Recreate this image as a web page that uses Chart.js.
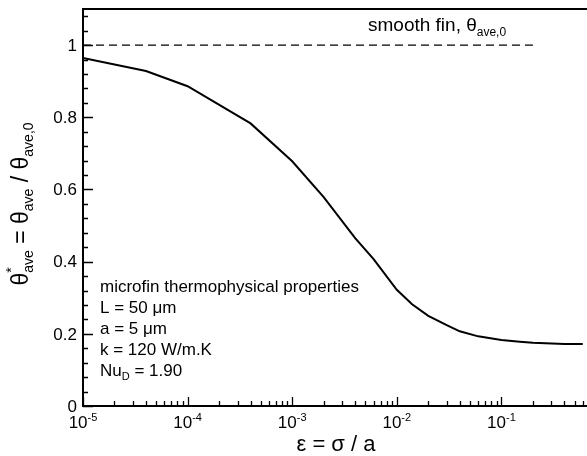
<!DOCTYPE html>
<html>
<head>
<meta charset="utf-8">
<script src="https://cdn.jsdelivr.net/npm/chart.js@4"></script>
<style>
  html, body { margin:0; padding:0; background:#fff; overflow:hidden; }
  #wrap { width:620px; height:456px; }
</style>
</head>
<body>
<div id="wrap"><canvas id="chart" width="620" height="456"></canvas></div>
<script>
// ============================================================
// DATA
// ============================================================
const eps       = [1e-5, 4e-5, 1e-4, 4e-4, 1e-3, 2e-3, 4e-3, 6e-3, 1e-2, 1.4e-2, 2e-2, 3e-2, 4e-2, 6e-2, 1e-1, 1.5e-1, 2e-1, 4e-1, 6e-1];
const thetaStar = [0.964, 0.928, 0.886, 0.783, 0.678, 0.579, 0.465, 0.407, 0.322, 0.282, 0.250, 0.224, 0.207, 0.193, 0.183, 0.178, 0.175, 0.172, 0.172];

const smoothEps   = [1e-5, 0.2];
const smoothTheta = [1, 1];

const yTicks      = [0, 0.2, 0.4, 0.6, 0.8, 1];
const yTickLabels = ['0', '0.2', '0.4', '0.6', '0.8', '1'];
const xDecades    = [1e-5, 1e-4, 1e-3, 1e-2, 1e-1];
const xTickExp    = ['-5', '-4', '-3', '-2', '-1'];

const propLines = ['microfin thermophysical properties', 'L = 50 μm', 'a = 5 μm', 'k = 120 W/m.K'];

// ============================================================
// helpers
// ============================================================
const FONT = '"Liberation Sans", Arial, sans-serif';
const fnt = sz => sz + 'px ' + FONT;

// parts: [text, size, dy]
function runWidth(ctx, parts) {
  let w = 0;
  parts.forEach(p => { ctx.font = fnt(p[1]); w += ctx.measureText(p[0]).width; });
  return w;
}
function drawRun(ctx, parts, x, y) {
  parts.forEach(p => {
    ctx.font = fnt(p[1]);
    ctx.fillText(p[0], x, y + (p[2] || 0));
    x += ctx.measureText(p[0]).width;
  });
  return x;
}

const frame = {
  id: 'frame',
  afterDraw(chart) {
    const { ctx, chartArea: a, scales: { x, y } } = chart;
    ctx.save();
    ctx.strokeStyle = '#000';
    ctx.fillStyle = '#000';

    // box
    ctx.lineWidth = 2;
    ctx.strokeRect(a.left, a.top, a.right - a.left, a.bottom - a.top);

    // y ticks (inward), minor every 0.04
    ctx.lineWidth = 1.3;
    ctx.beginPath();
    for (let i = 0; i <= 27; i++) {
      const v = i * 0.04;
      const py = Math.round(y.getPixelForValue(v)) + 0.5;
      const major = i % 5 === 0;
      ctx.moveTo(a.left, py);
      ctx.lineTo(a.left + (major ? 10 : 5), py);
    }
    // x ticks (inward), minor at 2..9
    xDecades.concat([1]).forEach(d => {
      for (let m = 1; m <= 9; m++) {
        const v = m * d;
        if (v > 1.0001) break;
        const px = Math.round(x.getPixelForValue(v)) + 0.5;
        ctx.moveTo(px, a.bottom);
        ctx.lineTo(px, a.bottom - (m === 1 ? 9 : 5));
      }
    });
    ctx.stroke();

    // y tick labels
    ctx.textAlign = 'right';
    ctx.textBaseline = 'middle';
    ctx.font = fnt(17);
    yTicks.forEach((v, i) => ctx.fillText(yTickLabels[i], a.left - 6, y.getPixelForValue(v) + 1));

    // x tick labels 10^n
    ctx.textAlign = 'left';
    ctx.textBaseline = 'alphabetic';
    xDecades.forEach((d, i) => {
      const parts = [['10', 17, 0], [xTickExp[i], 11, -7]];
      const w = runWidth(ctx, parts);
      drawRun(ctx, parts, x.getPixelForValue(d) - w / 2, 428);
    });

    // x title
    const xt = [['ε = σ / a', 22, 0]];
    drawRun(ctx, xt, 336 - runWidth(ctx, xt) / 2, 451);

    // y title, rotated
    ctx.save();
    ctx.translate(28, 204);
    ctx.rotate(-Math.PI / 2);
    const yt = [['θ', 23, 0], ['ave', 14, 5], [' = θ', 23, 0], ['ave', 14, 5], [' / θ', 23, 0], ['ave,0', 14, 5]];
    const sx = -runWidth(ctx, yt) / 2;
    ctx.font = fnt(23);
    const thW = ctx.measureText('θ').width;
    drawRun(ctx, yt, sx, 0);
    ctx.font = fnt(14);
    ctx.fillText('*', sx + thW, -12);
    ctx.restore();

    // smooth fin label
    drawRun(ctx, [['smooth fin, θ', 19, 0], ['ave,0', 12, 5]], 368, 31);

    // property block
    ctx.font = fnt(17);
    propLines.forEach((t, i) => ctx.fillText(t, 100, 292 + i * 21));
    drawRun(ctx, [['Nu', 17, 0], ['D', 11, 4], [' = 1.90', 17, 0]], 100, 292 + 4 * 21);

    ctx.restore();
  }
};

new Chart(document.getElementById('chart').getContext('2d'), {
  type: 'line',
  data: {
    datasets: [
      { data: eps.map((e, i) => ({ x: e, y: thetaStar[i] })), borderColor: '#000', borderWidth: 2, pointRadius: 0, tension: 0, fill: false },
      { data: smoothEps.map((e, i) => ({ x: e, y: smoothTheta[i] })), borderColor: '#000', borderWidth: 1.2, borderDash: [8, 5], pointRadius: 0, fill: false }
    ]
  },
  options: {
    responsive: false,
    animation: false,
    layout: { padding: { top: 9, right: 14, left: 0, bottom: 0 } },
    plugins: { legend: { display: false }, tooltip: { enabled: false } },
    scales: {
      x: { type: 'logarithmic', min: 1e-5, max: 1, grid: { display: false }, border: { display: false }, ticks: { display: false }, afterFit: s => { s.height = 50; } },
      y: { type: 'linear', min: 0, max: 1.1, grid: { display: false }, border: { display: false }, ticks: { display: false }, afterFit: s => { s.width = 83; } }
    }
  },
  plugins: [frame]
});
</script>
</body>
</html>
